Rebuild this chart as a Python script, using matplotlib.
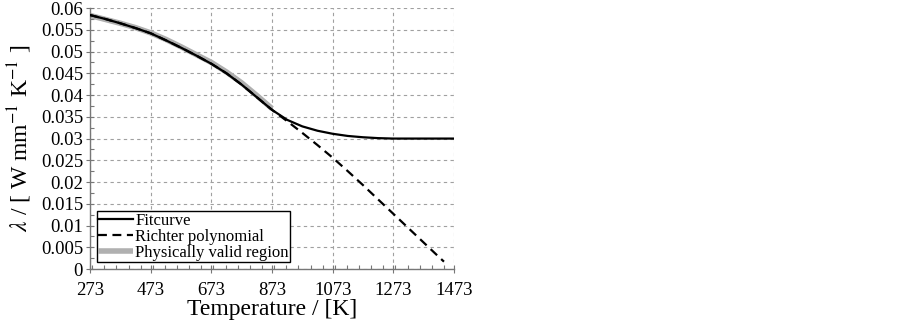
import numpy as np
import matplotlib
matplotlib.use("Agg")
from matplotlib import pyplot as plt
from matplotlib.ticker import MultipleLocator

plt.rcParams['font.family'] = ['Liberation Serif', 'DejaVu Serif']
plt.rcParams['mathtext.fontset'] = 'stix'

# data
temp_fit = [273, 323, 373, 423, 473, 523, 573, 623, 673, 723, 773, 823, 873,
            923, 973, 1023, 1073, 1123, 1173, 1223, 1273, 1323, 1373, 1423, 1473]
lam_fit = [0.0584, 0.0575, 0.0565, 0.0554, 0.0542, 0.0526, 0.0509, 0.0491, 0.0472,
           0.0450, 0.0424, 0.0395, 0.0366, 0.0343, 0.0328, 0.0318, 0.0311, 0.0306,
           0.0303, 0.0301, 0.0300, 0.0300, 0.0300, 0.0300, 0.0300]

temp_richter = [273, 323, 373, 423, 473, 523, 573, 623, 673, 723, 773, 823, 873,
                923, 973, 1023, 1073, 1123, 1173, 1223, 1273, 1323, 1373, 1423, 1440]
lam_richter = [0.0584, 0.0575, 0.0565, 0.0554, 0.0542, 0.0526, 0.0509, 0.0491, 0.0472,
               0.0450, 0.0424, 0.0395, 0.0366, 0.0340, 0.0313, 0.0285, 0.0256, 0.0225,
               0.0193, 0.0160, 0.0127, 0.0094, 0.0061, 0.0028, 0.0017]

temp_valid = [273, 323, 373, 423, 473, 523, 573, 623, 673, 723, 773, 823, 873]
lam_valid = [0.0583, 0.0574, 0.0565, 0.0555, 0.0543, 0.0528, 0.0511, 0.0493, 0.0475,
             0.0453, 0.0428, 0.0399, 0.0369]

xticks = [273, 473, 673, 873, 1073, 1273, 1473]
yticks = np.arange(0, 0.0601, 0.005)
ylabels = ['0', '0.005', '0.01', '0.015', '0.02', '0.025', '0.03',
           '0.035', '0.04', '0.045', '0.05', '0.055', '0.06']

fig = plt.figure(figsize=(9.02, 3.23), dpi=100)
ax = fig.add_axes([0.0998, 0.167, 0.4035, 0.808])

ax.plot(temp_valid, lam_valid, color='#b0b0b0', lw=4.0, solid_capstyle='butt',
        label='Physically valid region', zorder=2)
ax.plot(temp_richter, lam_richter, color='black', lw=1.6, ls=(0, (4, 2.5)),
        label='Richter polynomial', zorder=3)
ax.plot(temp_fit, lam_fit, color='black', lw=1.6, label='Fitcurve', zorder=4)

ax.set_xlim(273, 1473)
ax.set_ylim(0, 0.06)
ax.set_xticks(xticks)
ax.set_yticks(yticks)
ax.set_yticklabels(ylabels)
ax.xaxis.set_minor_locator(MultipleLocator(40))
ax.yaxis.set_minor_locator(MultipleLocator(0.0025))

ax.grid(True, which='major', color='#a0a0a0', ls=(0, (3, 3)), lw=0.8)
for s in ['top', 'right']:
    ax.spines[s].set_visible(False)
for s in ['left', 'bottom']:
    ax.spines[s].set_color('#777777')
    ax.spines[s].set_linewidth(1.0)
ax.tick_params(which='major', direction='inout', length=6, width=0.8,
               color='#777777', labelsize=13.5)
ax.tick_params(axis='x', which='major', pad=6)
ax.tick_params(axis='y', which='major', pad=2)
ax.tick_params(which='minor', direction='in', length=3, width=0.8, color='#777777')

ax.set_xlabel('Temperature / [K]', fontsize=17, labelpad=0)
ax.set_ylabel(r'$\lambda$ / [ W mm$^{-1}$ K$^{-1}$ ]', fontsize=17, labelpad=5)

handles, labels = ax.get_legend_handles_labels()
leg = ax.legend(handles[::-1], labels[::-1], loc='lower left', fontsize=12,
                frameon=True, fancybox=False, edgecolor='black', framealpha=1,
                handlelength=2.1, handletextpad=0.1, borderpad=0.1,
                labelspacing=0.0, borderaxespad=0.4)
leg.get_frame().set_linewidth(1.0)

fig.savefig('out.png', dpi=100)
